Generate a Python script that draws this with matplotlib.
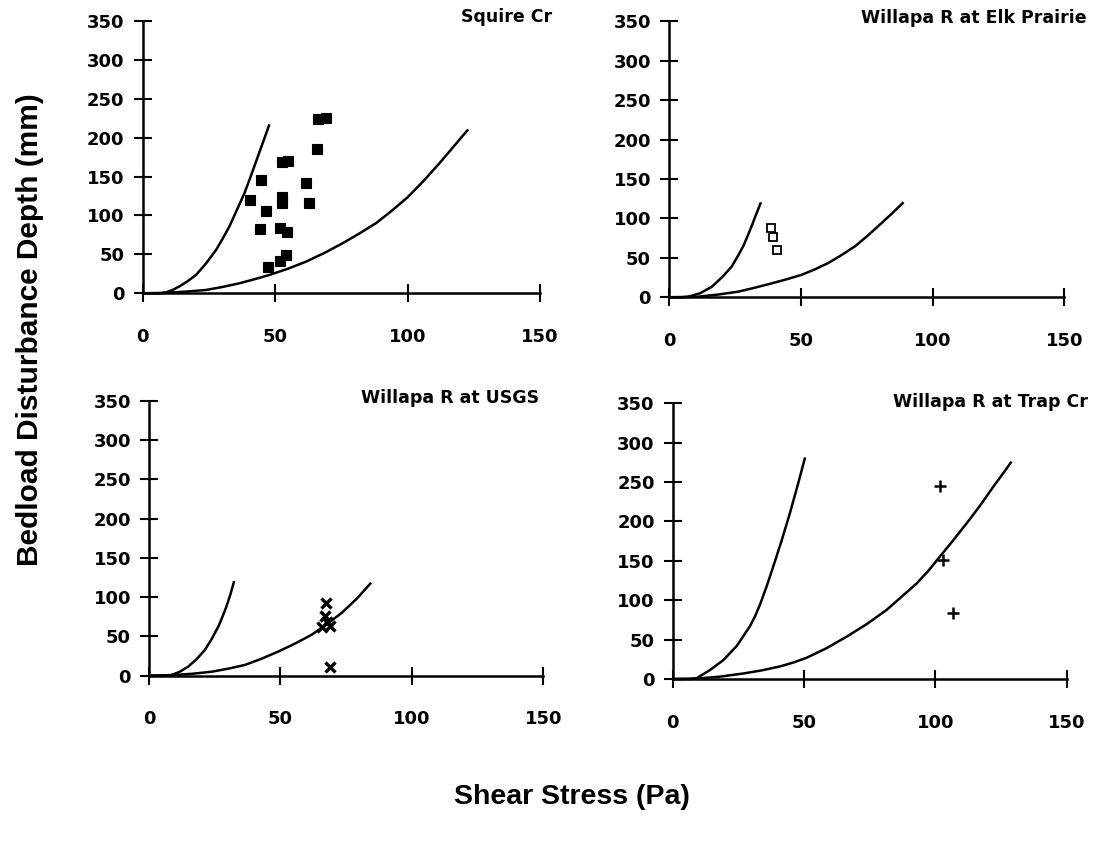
import matplotlib
matplotlib.use("Agg")
import matplotlib.pyplot as plt

W, H = 1105, 846

# ---------------- data ----------------
titles = ["Squire Cr", "Willapa R at Elk Prairie", "Willapa R at USGS", "Willapa R at Trap Cr"]
x_ticks = [0, 50, 100, 150]
y_ticks = [0, 50, 100, 150, 200, 250, 300, 350]

# Squire Cr
sq_x = [66.2, 69.3, 65.8, 52.7, 54.8, 44.9, 61.8, 40.7, 52.6, 52.6, 63.0, 46.7, 44.5, 51.9, 54.7, 54.2, 51.9, 47.4]
sq_y = [223.6, 225.8, 185.8, 169.0, 169.8, 145.3, 141.9, 120.4, 123.9, 116.1, 116.1, 105.3, 83.0, 83.9, 78.2, 49.4, 42.1, 34.3]
sq_steep_x = [0, 6.5, 8.8, 11.3, 13.9, 17.0, 20.2, 24.0, 27.8, 30.3, 32.8, 35.6, 38.5, 40.7, 42.9, 45.4, 47.9]
sq_steep_y = [0, 0.0, 1.0, 4.2, 8.8, 15.5, 23.6, 38.5, 55.9, 70.5, 86.0, 107.0, 129.0, 149.0, 169.8, 193.5, 217.2]
sq_shal_x = [0, 8.8, 16.4, 24.0, 30.3, 36.6, 42.2, 47.9, 54.8, 61.8, 68.7, 75.6, 81.9, 88.2, 94.2, 100.2, 106.2, 112.2, 117.5, 122.9]
sq_shal_y = [0, 0.6, 2.2, 4.3, 8.2, 12.9, 18.0, 23.6, 31.5, 40.8, 52.0, 64.5, 77.0, 90.3, 106.5, 123.9, 145.0, 167.7, 189.0, 210.7]

# Willapa R at Elk Prairie
ep_x = [38.7, 39.6, 40.9]
ep_y = [88.1, 76.5, 60.0]
ep_steep_x = [0, 5.0, 7.3, 11.7, 16.2, 20.0, 23.8, 26.0, 28.2, 29.8, 31.4, 33.1, 34.9]
ep_steep_y = [0, 0.0, 0.8, 5.0, 13.2, 25.0, 39.0, 51.5, 65.0, 77.5, 90.6, 105.5, 120.5]
ep_shal_x = [0, 11.1, 18.7, 26.3, 32.6, 39.0, 44.7, 50.4, 55.4, 60.5, 65.6, 70.7, 75.1, 79.5, 84.2, 89.0]
ep_shal_y = [0, 0.8, 3.5, 7.2, 12.2, 17.7, 22.9, 28.6, 35.5, 43.6, 53.8, 65.0, 77.3, 90.6, 105.0, 120.5]

# Willapa R at USGS
us_x = [67.5, 67.0, 67.6, 65.7, 68.9, 69.0]
us_y = [92.5, 75.5, 69.0, 62.0, 62.8, 11.5]
us_steep_x = [0, 6.0, 8.5, 11.7, 14.9, 18.1, 21.3, 23.9, 26.4, 28.0, 29.5, 31.0, 32.4]
us_steep_y = [0, 0.0, 0.8, 5.0, 11.5, 21.0, 33.0, 47.0, 62.8, 75.5, 88.5, 104.0, 120.5]
us_shal_x = [0, 9.9, 16.9, 23.9, 30.2, 36.5, 42.9, 49.2, 55.6, 61.9, 67.6, 73.3, 79.0, 84.5]
us_shal_y = [0, 0.9, 2.6, 5.1, 9.0, 13.7, 21.7, 30.8, 41.0, 52.2, 65.5, 80.0, 98.0, 118.5]

# Willapa R at Trap Cr
tc_x = [101.7, 102.8, 106.8]
tc_y = [245.4, 151.3, 83.4]
tc_steep_x = [0, 6.5, 9.1, 14.2, 19.3, 24.4, 29.4, 31.4, 33.3, 35.8, 38.3, 41.5, 44.6, 47.5, 50.4]
tc_steep_y = [0, 0.0, 1.0, 11.4, 24.0, 42.0, 67.0, 80.0, 95.0, 118.0, 143.0, 176.0, 210.3, 245.0, 281.3]
tc_shal_x = [0, 9.1, 18.0, 26.9, 34.0, 40.9, 46.0, 51.0, 58.5, 66.2, 74.0, 81.4, 87.0, 92.9, 97.5, 101.7, 107.0, 111.9, 117.0, 122.1, 126.0, 129.0]
tc_shal_y = [0, 0.5, 3.0, 7.0, 11.0, 16.0, 21.0, 27.0, 39.0, 53.7, 70.0, 87.6, 104.0, 121.4, 138.0, 155.3, 177.0, 197.6, 220.0, 244.3, 262.0, 276.0]

# ---------------- layout (pixel boxes: x0, x150, y0, y350) ----------------
boxes = [
    (142.5, 540.0, 293.3, 21.0),
    (669.0, 1064.3, 297.3, 21.3),
    (149.0, 543.3, 675.7, 401.0),
    (672.7, 1066.7, 679.0, 403.3),
]
title_pos = [(552, 17), (1087, 18), (539, 398), (1088, 402)]

fig = plt.figure(figsize=(W / 100, H / 100), dpi=100)
fig.patch.set_facecolor("white")

panels = [
    (sq_x, sq_y, sq_steep_x, sq_steep_y, sq_shal_x, sq_shal_y,
     dict(marker="s", ms=7.5, mfc="black", mec="black", mew=0.8)),
    (ep_x, ep_y, ep_steep_x, ep_steep_y, ep_shal_x, ep_shal_y,
     dict(marker="s", ms=6.0, mfc="white", mec="black", mew=1.3)),
    (us_x, us_y, us_steep_x, us_steep_y, us_shal_x, us_shal_y,
     dict(marker="x", ms=6.5, mec="black", mew=2.4)),
    (tc_x, tc_y, tc_steep_x, tc_steep_y, tc_shal_x, tc_shal_y,
     dict(marker="+", ms=8.0, mec="black", mew=1.8)),
]

tick_font = dict(family="DejaVu Sans", weight="bold", size=13)

for i, (px, py, stx, sty, shx, shy, mk) in enumerate(panels):
    x0, x1, y0, y1 = boxes[i]
    ax = fig.add_axes([x0 / W, 1 - y0 / H, (x1 - x0) / W, (y0 - y1) / H])
    for cx, cy in ((stx, sty), (shx, shy)):
        ax.plot(cx, cy, color="black", lw=1.8, solid_capstyle="butt",
                solid_joinstyle="round", clip_on=False)
    ax.plot(px, py, linestyle="none", clip_on=False, **mk)
    ax.set_xlim(0, 150)
    ax.set_ylim(0, 350)
    ax.set_xticks(x_ticks)
    ax.set_yticks(y_ticks)
    ax.set_xticklabels([str(v) for v in x_ticks], fontdict=tick_font)
    ax.set_yticklabels([str(v) for v in y_ticks], fontdict=tick_font)
    for s in ["top", "right"]:
        ax.spines[s].set_visible(False)
    for s in ["left", "bottom"]:
        ax.spines[s].set_linewidth(1.8)
    ax.tick_params(axis="both", direction="inout", length=13, width=1.5, colors="black")
    ax.tick_params(axis="x", pad=18.5)
    ax.tick_params(axis="y", pad=6.5)
    ax.set_facecolor("none")
    tx, ty = title_pos[i]
    fig.text(tx / W, 1 - ty / H, titles[i], ha="right", va="center",
             fontsize=12.5, fontweight="bold", family="DejaVu Sans")

fig.text(30 / W, 1 - 330 / H, "Bedload Disturbance Depth (mm)", rotation=90,
         ha="center", va="center", fontsize=21.5, fontweight="bold",
         family="Liberation Sans")
fig.text(572 / W, 1 - 797 / H, "Shear Stress (Pa)", ha="center", va="center",
         fontsize=20.5, fontweight="bold", family="Liberation Sans")

fig.savefig("out.png", dpi=100, facecolor="white")
